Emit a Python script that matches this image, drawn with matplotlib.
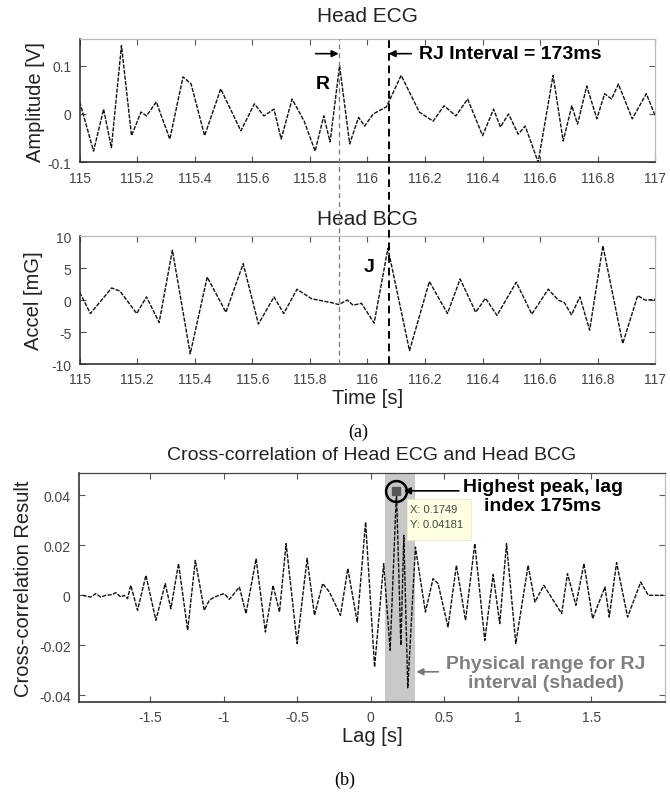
import matplotlib
matplotlib.use("Agg")
import matplotlib.pyplot as plt
import matplotlib.transforms as mtransforms
from matplotlib.lines import Line2D
from matplotlib.patches import Rectangle
from matplotlib.ticker import FormatStrFormatter
import numpy as np

plt.rcParams["font.family"] = ["Liberation Sans", "DejaVu Sans"]
plt.rcParams["axes.unicode_minus"] = False

# ---- Head ECG (time [s], amplitude [V]) ----
ecg_t = [115.0, 115.048, 115.083, 115.11, 115.145, 115.18, 115.213, 115.232,
         115.266, 115.313, 115.359, 115.387, 115.434, 115.49, 115.56, 115.607,
         115.64, 115.675, 115.70, 115.738, 115.78, 115.818, 115.848, 115.87,
         115.903, 115.938, 115.969, 115.99, 116.02, 116.066, 116.117, 116.18,
         116.228, 116.266, 116.307, 116.348, 116.4, 116.438, 116.462, 116.49,
         116.524, 116.548, 116.593, 116.645, 116.68, 116.71, 116.73, 116.762,
         116.797, 116.824, 116.848, 116.872, 116.92, 116.969, 117.0]
ecg_v = [0.025, -0.077, 0.01, -0.07, 0.142, -0.045, 0.004, -0.004,
         0.025, -0.052, 0.077, 0.062, -0.045, 0.052, -0.035, 0.021,
         -0.004, 0.01, -0.052, 0.031, -0.015, -0.077, -0.004, -0.058,
         0.1, -0.062, -0.007, -0.025, 0.0, 0.015, 0.08, 0.004,
         -0.015, 0.017, -0.004, 0.031, -0.045, 0.01, -0.027, 0.0,
         -0.042, -0.025, -0.1, 0.08, -0.056, 0.017, -0.021, 0.058,
         -0.01, 0.042, 0.031, 0.062, -0.01, 0.042, -0.004]

# ---- Head BCG (time [s], accel [mG]) ----
bcg_t = [115.0, 115.037, 115.111, 115.14, 115.198, 115.232, 115.276, 115.322,
         115.384, 115.443, 115.508, 115.568, 115.621, 115.675, 115.709, 115.755,
         115.806, 115.875, 115.9, 115.93, 115.95, 115.979, 116.023, 116.071,
         116.146, 116.215, 116.278, 116.322, 116.376, 116.41, 116.45, 116.517,
         116.571, 116.628, 116.663, 116.684, 116.709, 116.738, 116.772, 116.818,
         116.887, 116.939, 116.965, 117.0]
bcg_v = [1.2, -2.1, 1.9, 1.4, -2.1, 0.5, -3.5, 7.8,
         -8.4, 3.6, -1.9, 5.7, -3.75, 0.5, -2.1, 1.7,
         0.2, -0.4, -0.7, 0.0, -0.8, -0.5, -3.6, 8.1,
         -7.9, 2.9, -2.1, 3.3, -1.9, 0.3, -2.4, 2.8,
         -2.2, 1.7, 0.0, -0.4, -2.3, 0.5, -4.7, 8.5,
         -6.8, 0.7, 0.0, 0.1]

# ---- cross-correlation (lag [s], result) ----
xc_lag = [-1.962, -1.905, -1.871, -1.837, -1.803, -1.758, -1.735, -1.701,
          -1.678, -1.655, -1.633, -1.587, -1.53, -1.462, -1.399, -1.36,
          -1.308, -1.246, -1.194, -1.133, -1.099, -1.065, -1.031, -0.997,
          -0.962, -0.894, -0.849, -0.78, -0.717, -0.665, -0.621, -0.576,
          -0.501, -0.433, -0.383, -0.327, -0.281, -0.206, -0.156, -0.092,
          -0.035, 0.026, 0.088, 0.132, 0.175, 0.205, 0.225, 0.252,
          0.304, 0.372, 0.424, 0.458, 0.526, 0.583, 0.645, 0.708,
          0.776, 0.833, 0.878, 0.924, 0.987, 1.071, 1.117, 1.178,
          1.242, 1.299, 1.339, 1.396, 1.451, 1.51, 1.594, 1.623,
          1.673, 1.748, 1.837, 1.889, 1.957, 1.99]
xc_val = [0.0, -0.0007, 0.0007, -0.0007, 0.0, 0.0003, 0.0011, -0.0007,
          0.0, -0.0013, 0.004, -0.006, 0.008, -0.01, 0.0047, -0.0053,
          0.0127, -0.014, 0.014, -0.006, -0.002, -0.0007, 0.0, 0.0007,
          -0.0016, 0.0033, -0.0073, 0.0147, -0.0147, 0.004, -0.0067, 0.0207,
          -0.0193, 0.0147, -0.008, 0.0047, 0.0013, -0.008, 0.0107, -0.0107,
          0.0293, -0.0287, 0.0127, -0.022, 0.04181, -0.02, 0.024, -0.037,
          0.0193, -0.0067, 0.0067, 0.0047, -0.0127, 0.012, -0.01, 0.0207,
          -0.018, 0.0083, -0.0113, 0.0207, -0.0193, 0.012, -0.0027, 0.004,
          -0.002, -0.0073, 0.0087, -0.004, 0.0127, -0.0093, 0.0033, -0.0087,
          0.0131, -0.0087, 0.0053, 0.0, 0.0, 0.0]

peak_lag, peak_val = 0.1749, 0.04181
rj_range = (0.1, 0.3)
r_time, j_time = 115.9, 116.073

LINE = dict(color="#111111", lw=1.0, linestyle=(0, (3, 1)))
DARK = "#333333"


def style_axes(ax):
    ax.tick_params(direction="in", top=True, right=True, labelsize=10,
                   labelcolor="#444444", color="#555555", length=4, pad=6)
    for side in ("left", "bottom"):
        ax.spines[side].set_color(DARK)
        ax.spines[side].set_linewidth(1.2)
    for side in ("top", "right"):
        ax.spines[side].set_color("#bbbbbb")
        ax.spines[side].set_linewidth(0.9)


fig = plt.figure(figsize=(6.7, 8.04), dpi=100)
ax1 = fig.add_axes([0.119, 0.797, 0.859, 0.153])
ax2 = fig.add_axes([0.119, 0.546, 0.859, 0.159])
ax3 = fig.add_axes([0.118, 0.1256, 0.874, 0.285])

# ECG
ax1.plot(ecg_t, ecg_v, **LINE)
ax1.set_xlim(115, 117)
ax1.set_ylim(-0.1, 0.155)
ax1.set_yticks([-0.1, 0, 0.1])
ax1.set_xticks(np.arange(115, 117.01, 0.2))
ax1.xaxis.set_major_formatter(FormatStrFormatter("%g"))
ax1.yaxis.set_major_formatter(FormatStrFormatter("%g"))
ax1.set_ylabel("Amplitude [V]", fontsize=14.5, color="#222222", labelpad=2)
ax1.set_title("Head ECG", fontsize=15, color="#222222", pad=13)
style_axes(ax1)

ax1.annotate("", xy=(r_time, 0.125), xytext=(115.82, 0.125),
             arrowprops=dict(arrowstyle="-|>", color="black", lw=1.2,
                             mutation_scale=10, shrinkA=0, shrinkB=0))
ax1.text(115.845, 0.064, "R", fontsize=14, fontweight="bold", ha="center", va="center")
ax1.annotate("", xy=(j_time, 0.125), xytext=(116.152, 0.125),
             arrowprops=dict(arrowstyle="-|>", color="black", lw=1.2,
                             mutation_scale=10, shrinkA=0, shrinkB=0))
ax1.text(116.18, 0.125, "RJ Interval = 173ms", fontsize=14, fontweight="bold",
         ha="left", va="center")

# BCG
ax2.plot(bcg_t, bcg_v, **LINE)
ax2.set_xlim(115, 117)
ax2.set_ylim(-10, 10)
ax2.set_yticks([-10, -5, 0, 5, 10])
ax2.set_xticks(np.arange(115, 117.01, 0.2))
ax2.xaxis.set_major_formatter(FormatStrFormatter("%g"))
ax2.set_ylabel("Accel [mG]", fontsize=14.5, color="#222222", labelpad=6)
ax2.set_xlabel("Time [s]", fontsize=14.5, color="#222222", labelpad=1)
ax2.set_title("Head BCG", fontsize=15, color="#222222", pad=9)
ax2.text(116.007, 5.3, "J", fontsize=14, fontweight="bold", ha="center", va="center")
style_axes(ax2)

# R and J markers spanning both panels
trans = mtransforms.blended_transform_factory(ax1.transData, fig.transFigure)
fig.add_artist(Line2D([r_time, r_time], [0.546, 0.95], transform=trans,
                      color="#777777", lw=0.9, linestyle=(0, (4, 3))))
fig.add_artist(Line2D([j_time, j_time], [0.546, 0.95], transform=trans,
                      color="black", lw=1.4, linestyle=(0, (4, 2.5))))

fig.text(0.534, 0.462, "(a)", fontsize=13, family="Liberation Serif",
         ha="center", va="center")

# Cross-correlation
ax3.axvspan(*rj_range, color="#c8c8c8", lw=0, zorder=0)
ax3.plot(xc_lag, xc_val, **LINE)
ax3.set_xlim(-1.985, 2.0)
ax3.set_ylim(-0.0427, 0.049)
ax3.set_xticks([-1.5, -1, -0.5, 0, 0.5, 1, 1.5])
ax3.set_yticks([-0.04, -0.02, 0, 0.02, 0.04])
ax3.xaxis.set_major_formatter(FormatStrFormatter("%g"))
ax3.yaxis.set_major_formatter(FormatStrFormatter("%g"))
ax3.set_xlabel("Lag [s]", fontsize=14.5, color="#222222", labelpad=1)
ax3.set_ylabel("Cross-correlation Result", fontsize=14.5, color="#222222", labelpad=4)
ax3.set_title("Cross-correlation of Head ECG and Head BCG", fontsize=14,
              color="#222222", pad=10)
style_axes(ax3)
ax3.spines["top"].set_color("#444444")

# data tip box
ax3.add_patch(Rectangle((0.245, 0.0222), 0.44, 0.0165, fc="#fdfde2",
                        ec="#ecebd0", lw=0.6, zorder=3))
ax3.text(0.265, 0.0347, "X: 0.1749", fontsize=8, color="#444444",
         ha="left", va="center", zorder=4)
ax3.text(0.265, 0.0287, "Y: 0.04181", fontsize=8, color="#444444",
         ha="left", va="center", zorder=4)

ax3.plot([peak_lag], [peak_val], marker="s", ms=6, color="#555555", zorder=5)
ax3.plot([peak_lag], [peak_val], marker="o", ms=15, mfc="none", mec="black",
         mew=1.8, zorder=5)
ax3.annotate("", xy=(peak_lag + 0.05, peak_val), xytext=(0.6, peak_val),
             arrowprops=dict(arrowstyle="-|>", color="black", lw=1.2,
                             mutation_scale=10, shrinkA=0, shrinkB=0), zorder=6)
ax3.text(1.17, 0.0399, "Highest peak, lag\nindex 175ms", fontsize=14,
         fontweight="bold", ha="center", va="center", linespacing=1.15)
ax3.annotate("", xy=(0.31, -0.0306), xytext=(0.46, -0.0306),
             arrowprops=dict(arrowstyle="-|>", color="#777777", lw=1.2,
                             mutation_scale=10, shrinkA=0, shrinkB=0))
ax3.text(1.19, -0.031, "Physical range for RJ\ninterval (shaded)", fontsize=14,
         fontweight="bold", color="#808080", ha="center", va="center",
         linespacing=1.15)

fig.text(0.515, 0.03, "(b)", fontsize=13, family="Liberation Serif",
         ha="center", va="center")

fig.savefig("out.png", dpi=100)
